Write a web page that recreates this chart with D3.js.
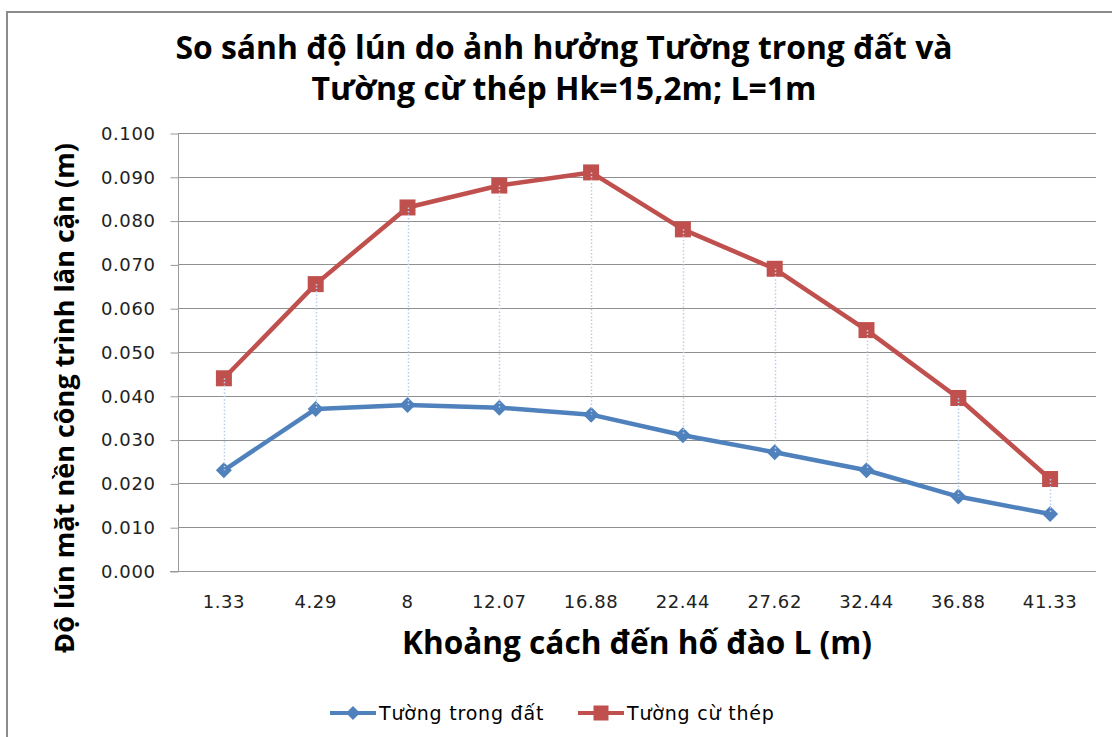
<!DOCTYPE html>
<html>
<head>
<meta charset="utf-8">
<script src="https://cdn.jsdelivr.net/npm/d3@7/dist/d3.min.js"></script>
<style>
  html, body { margin: 0; padding: 0; background: #fff; }
  svg { display: block; }
</style>
</head>
<body>
<svg id="chart" width="1112" height="737"></svg>
<script>
// Distances from the excavation (category labels)
const categories = ["1.33", "4.29", "8", "12.07", "16.88", "22.44", "27.62", "32.44", "36.88", "41.33"];
// Settlement of neighbouring buildings (m)
const diaphragmWall = [0.023, 0.037, 0.0379, 0.0373, 0.0357, 0.031, 0.0271, 0.023, 0.017, 0.013];
const sheetPileWall = [0.044, 0.0655, 0.083, 0.088, 0.091, 0.078, 0.069, 0.055, 0.0395, 0.021];
const yTicks = [0, 0.01, 0.02, 0.03, 0.04, 0.05, 0.06, 0.07, 0.08, 0.09, 0.1];
const seriesNames = ["Tường trong đất", "Tường cừ thép"];
const titleLines = ["So sánh độ lún do ảnh hưởng Tường trong đất và", "Tường cừ thép Hk=15,2m; L=1m"];
const xTitle = "Khoảng cách đến hố đào L (m)";
const yTitle = "Độ lún mặt nền công trình lân cận (m)";

const BLUE = "#4f81bd", RED = "#c0504d";
const svg = d3.select("#chart");

// Outer chart frame (continues past the right and bottom edges)
svg.append("rect")
  .attr("x", 7).attr("y", 12).attr("width", 1200).attr("height", 800)
  .attr("fill", "#fff").attr("stroke", "#8c8c8c").attr("stroke-width", 2);

const plot = { left: 178, right: 1096, top: 133, bottom: 571 };
const x = d3.scaleBand().domain(categories).range([plot.left, plot.right]).padding(0);
const y = d3.scaleLinear().domain([0, 0.1]).range([plot.bottom, plot.top]);
const cx = c => x(c) + x.bandwidth() / 2;

// Fit a text element to a given width by scaling its font size
function fitWidth(sel, target) {
  const w = sel.node().getComputedTextLength();
  const fs = parseFloat(sel.attr("font-size"));
  sel.attr("font-size", (fs * target / w).toFixed(2));
}

// Title
titleLines.forEach((t, i) => {
  const el = svg.append("text")
    .attr("x", 564).attr("y", 59 + i * 41)
    .attr("text-anchor", "middle")
    .attr("font-family", "'Open Sans', sans-serif").attr("font-weight", 700)
    .attr("font-size", 28).attr("fill", "#000").text(t);
  fitWidth(el, i === 0 ? 777 : 505);
});

// Horizontal gridlines
svg.append("g").selectAll("line").data(yTicks.slice(1)).join("line")
  .attr("x1", plot.left).attr("x2", plot.right)
  .attr("y1", d => Math.round(y(d)) + 0.5).attr("y2", d => Math.round(y(d)) + 0.5)
  .attr("stroke", "#8f8f8f").attr("stroke-width", 1);

const tickFont = sel => sel
  .attr("font-family", "'DejaVu Sans', sans-serif").attr("font-size", 18)
  .attr("letter-spacing", 0.6).attr("fill", "#222");

// Y axis
const yAxis = d3.axisLeft(y).tickValues(yTicks).tickFormat(d3.format(".3f")).tickSize(8).tickPadding(15);
const yg = svg.append("g").attr("transform", `translate(${plot.left + 0.5},0.5)`).call(yAxis);
yg.select(".domain").attr("stroke", "#9a9a9a").attr("d", `M0,${plot.top}V${plot.bottom}`);
yg.selectAll(".tick line").attr("stroke", "#9a9a9a");
yg.selectAll(".tick text").call(tickFont);

// X axis
const xAxis = d3.axisBottom(x).tickSize(0).tickPadding(24);
const xg = svg.append("g").attr("transform", `translate(0,${plot.bottom + 0.5})`).call(xAxis);
xg.select(".domain").attr("stroke", "#9a9a9a").attr("d", `M${plot.left - 8},0H${plot.right}`);
xg.selectAll(".tick text").call(tickFont);

// Axis titles
const xt = svg.append("text")
  .attr("x", (plot.left + plot.right) / 2).attr("y", 654)
  .attr("text-anchor", "middle")
  .attr("font-family", "'Open Sans', sans-serif").attr("font-weight", 700)
  .attr("font-size", 27).attr("fill", "#000").text(xTitle);
fitWidth(xt, 470);

const yt = svg.append("text")
  .attr("transform", "translate(74,398) rotate(-90)")
  .attr("text-anchor", "middle")
  .attr("font-family", "'Open Sans', sans-serif").attr("font-weight", 700)
  .attr("font-size", 26).attr("fill", "#000").text(yTitle);
fitWidth(yt, 510);

// Series lines
const line = d3.line().x((d, i) => cx(categories[i])).y(d => y(d));
svg.append("path").datum(diaphragmWall).attr("d", line)
  .attr("fill", "none").attr("stroke", BLUE).attr("stroke-width", 4.5).attr("stroke-linejoin", "round");
svg.append("path").datum(sheetPileWall).attr("d", line)
  .attr("fill", "none").attr("stroke", RED).attr("stroke-width", 4.5).attr("stroke-linejoin", "round");

// Markers
const diamond = r => `M0,${-r}L${r},0L0,${r}L${-r},0Z`;
svg.append("g").selectAll("path").data(diaphragmWall).join("path")
  .attr("transform", (d, i) => `translate(${cx(categories[i])},${y(d)})`)
  .attr("d", diamond(8)).attr("fill", BLUE);
svg.append("g").selectAll("rect").data(sheetPileWall).join("rect")
  .attr("x", (d, i) => cx(categories[i]) - 8).attr("y", d => y(d) - 8)
  .attr("width", 16).attr("height", 16).attr("fill", RED);

// High-low lines between the two series
svg.append("g").selectAll("line").data(categories).join("line")
  .attr("x1", c => Math.round(cx(c)) + 0.5).attr("x2", c => Math.round(cx(c)) + 0.5)
  .attr("y1", (c, i) => y(sheetPileWall[i])).attr("y2", (c, i) => y(diaphragmWall[i]))
  .attr("stroke", "#bccdeb").attr("stroke-width", 1.5).attr("stroke-dasharray", "1.5,2");

// Legend
const legend = [
  { name: seriesNames[0], color: BLUE, x0: 330, shape: "diamond" },
  { name: seriesNames[1], color: RED, x0: 578, shape: "square" }
];
const ly = 713;
legend.forEach(l => {
  const g = svg.append("g");
  g.append("line").attr("x1", l.x0).attr("x2", l.x0 + 46).attr("y1", ly).attr("y2", ly)
    .attr("stroke", l.color).attr("stroke-width", 4);
  if (l.shape === "diamond") {
    g.append("path").attr("transform", `translate(${l.x0 + 23},${ly})`).attr("d", diamond(7)).attr("fill", l.color);
  } else {
    g.append("rect").attr("x", l.x0 + 15.5).attr("y", ly - 7.5).attr("width", 15).attr("height", 15).attr("fill", l.color);
  }
  g.append("text").attr("x", l.x0 + 49).attr("y", ly + 7)
    .attr("font-family", "'DejaVu Sans', sans-serif").attr("font-size", 19)
    .attr("letter-spacing", 0.8).attr("fill", "#000").text(l.name);
});
</script>
</body>
</html>
